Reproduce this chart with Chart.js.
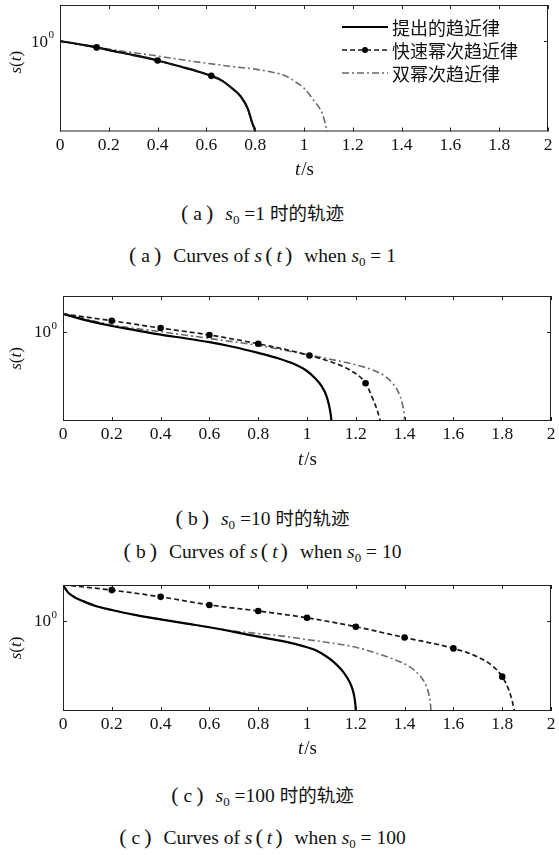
<!DOCTYPE html>
<html>
<head>
<meta charset="utf-8">
<script src="https://cdn.jsdelivr.net/npm/chart.js@4.4.0/dist/chart.umd.min.js"></script>
<style>
  body { margin:0; background:#fff; width:559px; height:855px; position:relative; overflow:hidden;
         font-family:'Liberation Serif','Noto Sans CJK SC',serif; color:#111; }
  .plot { position:absolute; left:0; }
  .cap { position:absolute; left:0; width:525px; height:26px; line-height:26px; text-align:center;
         font-size:19.5px; white-space:nowrap; }
  .cap sub { font-size:13px; vertical-align:-4px; }
  .pa, .pb, .qa, .qb { font-size:22px; }
  .pa { margin-right:5px; }
  .pb { margin-left:4px; margin-right:12px; }
  .qa { margin:0 4px 0 3px; }
  .qb { margin:0 12px 0 3px; }
  .zh { margin-left:5px; font-size:18.5px; }
</style>
</head>
<body>
<canvas class="plot" id="chartA" width="559" height="180" style="top:0"></canvas>
<div class="cap" style="top:200px"><span class="pa">(</span>a<span class="pb">)</span><i>s</i><sub>0</sub> =1<span class="zh">时的轨迹</span></div>
<div class="cap" style="top:242px"><span class="pa">(</span>a<span class="pb">)</span>Curves of <i>s</i><span class="qa">(</span><i>t</i><span class="qb">)</span>when <i>s</i><sub>0</sub> = 1</div>

<canvas class="plot" id="chartB" width="559" height="180" style="top:291px"></canvas>
<div class="cap" style="top:505px"><span class="pa">(</span>b<span class="pb">)</span><i>s</i><sub>0</sub> =10<span class="zh">时的轨迹</span></div>
<div class="cap" style="top:538px"><span class="pa">(</span>b<span class="pb">)</span>Curves of <i>s</i><span class="qa">(</span><i>t</i><span class="qb">)</span>when <i>s</i><sub>0</sub> = 10</div>

<canvas class="plot" id="chartC" width="559" height="180" style="top:580px"></canvas>
<div class="cap" style="top:782px"><span class="pa">(</span>c<span class="pb">)</span><i>s</i><sub>0</sub> =100<span class="zh">时的轨迹</span></div>
<div class="cap" style="top:824px"><span class="pa">(</span>c<span class="pb">)</span>Curves of <i>s</i><span class="qa">(</span><i>t</i><span class="qb">)</span>when <i>s</i><sub>0</sub> = 100</div>

<script>
// Подписи легенды
const seriesNames = ['提出的趋近律', '快速幂次趋近律', '双幂次趋近律'];

// Деления осей
const xTickVals = [0, 0.2, 0.4, 0.6, 0.8, 1, 1.2, 1.4, 1.6, 1.8, 2];
const yTickVals = [1];

// (a) s0 = 1
const tPropA = [0, 0.05, 0.1, 0.15, 0.2, 0.3, 0.4, 0.5, 0.56, 0.62, 0.66, 0.7, 0.74, 0.77, 0.787, 0.797, 0.8];
const sPropA = [1, 0.79, 0.6, 0.45, 0.32, 0.17, 0.085, 0.037, 0.022, 0.012, 7e-3, 2.8e-3, 8.9e-4, 1.8e-4, 3.2e-5, 1.4e-5, 1e-5];
const tFastA = [0, 0.05, 0.1, 0.15, 0.2, 0.3, 0.4, 0.5, 0.56, 0.62, 0.66, 0.7, 0.74, 0.77, 0.787, 0.797, 0.8];
const sFastA = [1, 0.79, 0.6, 0.45, 0.32, 0.17, 0.085, 0.037, 0.022, 0.012, 7e-3, 2.8e-3, 8.9e-4, 1.8e-4, 3.2e-5, 1.4e-5, 1e-5];
const markFastA = [0.15, 0.4, 0.62];
const tDblA = [0, 0.1, 0.2, 0.3, 0.4, 0.5, 0.6, 0.7, 0.8, 0.88, 0.93, 0.97, 1.0, 1.04, 1.075, 1.088, 1.095];
const sDblA = [1, 0.6, 0.36, 0.23, 0.15, 0.093, 0.06, 0.04, 0.028, 0.018, 0.011, 5e-3, 2.5e-3, 5.2e-4, 1e-4, 2.5e-5, 1e-5];

// (b) s0 = 10
const tPropB = [0, 0.1, 0.2, 0.3, 0.4, 0.5, 0.6, 0.7, 0.8, 0.88, 0.95, 1.0, 1.03, 1.06, 1.08, 1.09, 1.097, 1.1];
const sPropB = [10, 4.2, 2.1, 1.2, 0.68, 0.43, 0.26, 0.14, 0.065, 0.033, 0.015, 6.3e-3, 2.7e-3, 8.9e-4, 2.5e-4, 7.9e-5, 2.5e-5, 1e-5];
const tFastB = [0, 0.2, 0.4, 0.6, 0.8, 0.9, 1.01, 1.1, 1.17, 1.24, 1.27, 1.29, 1.3];
const sFastB = [10, 4.1, 1.6, 0.66, 0.21, 0.11, 0.047, 0.02, 7.9e-3, 1.3e-3, 1.7e-4, 3.2e-5, 1e-5];
const markFastB = [0.2, 0.4, 0.6, 0.8, 1.01, 1.24];
const tDblB = [0, 0.1, 0.2, 0.4, 0.6, 0.8, 1.0, 1.1, 1.2, 1.27, 1.32, 1.355, 1.375, 1.39, 1.397, 1.4];
const sDblB = [10, 4.8, 2.4, 1.0, 0.42, 0.17, 0.052, 0.028, 0.014, 7.1e-3, 3.2e-3, 1.1e-3, 4e-4, 1e-4, 3.2e-5, 1e-5];

// (c) s0 = 100
const tPropC = [0, 0.012, 0.024, 0.05, 0.078, 0.13, 0.2, 0.3, 0.4, 0.5, 0.6, 0.7, 0.8, 0.9, 0.95, 1.0, 1.04, 1.08, 1.11, 1.15, 1.175, 1.19, 1.198, 1.2];
const sPropC = [100, 56, 35, 20, 13.5, 7.1, 4.1, 2.1, 1.23, 0.74, 0.45, 0.25, 0.135, 0.076, 0.054, 0.035, 0.0224, 0.0107, 5.2e-3, 1.4e-3, 4e-4, 1.1e-4, 2.5e-5, 1e-5];
const tFastC = [0, 0.1, 0.2, 0.4, 0.6, 0.8, 1.0, 1.2, 1.4, 1.6, 1.7, 1.76, 1.8, 1.826, 1.842, 1.85];
const sFastC = [100, 74, 52, 22, 7.8, 3.6, 1.5, 0.48, 0.12, 0.03, 0.01, 3.2e-3, 8.1e-4, 1.6e-4, 3.2e-5, 1e-5];
const markFastC = [0.2, 0.4, 0.6, 0.8, 1.0, 1.2, 1.4, 1.6, 1.8];
const tDblC = [0, 0.012, 0.024, 0.05, 0.078, 0.13, 0.2, 0.3, 0.4, 0.5, 0.6, 0.7, 0.8, 0.9, 1.0, 1.1, 1.2, 1.285, 1.35, 1.42, 1.46, 1.485, 1.5, 1.506, 1.508];
const sDblC = [100, 56, 35, 20, 13.5, 7.1, 4.1, 2.1, 1.23, 0.74, 0.45, 0.28, 0.2, 0.145, 0.093, 0.06, 0.035, 0.016, 7.9e-3, 2.9e-3, 1e-3, 3.2e-4, 7.9e-5, 2.5e-5, 1e-5];

const serif = "'Liberation Serif', 'Times New Roman', serif";
const cjk = "'Noto Sans CJK SC', sans-serif";

function toPoints(t, s) {
  return t.map((x, i) => ({ x: x, y: s[i] }));
}

// Рамка, засечки внутрь, подписи осей, легенда
const framePlugin = {
  id: 'frame',
  afterDraw(chart, args, opts) {
    const ctx = chart.ctx;
    const a = chart.chartArea;
    const xs = chart.scales.x, ys = chart.scales.y;
    ctx.save();
    ctx.strokeStyle = '#222';
    ctx.lineWidth = 1;
    ctx.strokeRect(a.left + 0.5, a.top + 0.5, a.right - a.left - 1, a.bottom - a.top - 1);
    ctx.beginPath();
    xs.ticks.forEach(tk => {
      const px = Math.round(xs.getPixelForValue(tk.value)) + 0.5;
      ctx.moveTo(px, a.bottom); ctx.lineTo(px, a.bottom - 4);
      ctx.moveTo(px, a.top); ctx.lineTo(px, a.top + 4);
    });
    ys.ticks.forEach(tk => {
      const py = Math.round(ys.getPixelForValue(tk.value)) + 0.5;
      ctx.moveTo(a.left, py); ctx.lineTo(a.left + 4, py);
      ctx.moveTo(a.right, py); ctx.lineTo(a.right - 4, py);
    });
    ctx.stroke();

    // 10^0
    ctx.fillStyle = '#111';
    ys.ticks.forEach(tk => {
      const py = ys.getPixelForValue(tk.value);
      ctx.textBaseline = 'middle';
      ctx.textAlign = 'right';
      ctx.font = '11px ' + serif;
      ctx.fillText('0', a.left - 6, py - 6);
      ctx.font = '17px ' + serif;
      ctx.fillText('10', a.left - 12, py + 1);
    });

    // t/s
    const cx = (a.left + a.right) / 2;
    ctx.textBaseline = 'middle';
    ctx.textAlign = 'left';
    ctx.font = 'italic 19px ' + serif;
    const wT = ctx.measureText('t').width;
    ctx.font = '19px ' + serif;
    const wS = ctx.measureText('/s').width;
    const x0 = cx - (wT + wS) / 2;
    ctx.font = 'italic 19px ' + serif;
    ctx.fillText('t', x0, opts.titleY);
    ctx.font = '19px ' + serif;
    ctx.fillText('/s', x0 + wT + 1, opts.titleY);

    // s(t)
    ctx.save();
    ctx.translate(17, (a.top + a.bottom) / 2 + opts.yTitleShift);
    ctx.rotate(-Math.PI / 2);
    const parts = [['s', true], ['(', false], ['t', true], [')', false]];
    let total = 0;
    parts.forEach(p => { ctx.font = (p[1] ? 'italic ' : '') + '17px ' + serif; total += ctx.measureText(p[0]).width; });
    let px = -total / 2;
    parts.forEach(p => {
      ctx.font = (p[1] ? 'italic ' : '') + '17px ' + serif;
      ctx.fillText(p[0], px, 0);
      px += ctx.measureText(p[0]).width;
    });
    ctx.restore();

    // легенда
    if (opts.legend) {
      const styles = chart.data.datasets;
      opts.legend.rows.forEach((ry, i) => {
        const ds = styles[i];
        ctx.strokeStyle = ds.borderColor;
        ctx.lineWidth = ds.borderWidth;
        ctx.setLineDash(ds.borderDash || []);
        ctx.beginPath();
        ctx.moveTo(opts.legend.x0, ry); ctx.lineTo(opts.legend.x1, ry);
        ctx.stroke();
        ctx.setLineDash([]);
        if (i === 1) {
          ctx.fillStyle = '#000';
          ctx.beginPath();
          ctx.arc((opts.legend.x0 + opts.legend.x1) / 2, ry, 3, 0, Math.PI * 2);
          ctx.fill();
        }
        ctx.fillStyle = '#111';
        ctx.font = '18px ' + cjk;
        ctx.textAlign = 'left';
        ctx.textBaseline = 'middle';
        ctx.fillText(seriesNames[i], opts.legend.x1 + 4, ry + 1);
      });
    }
    ctx.restore();
  }
};

function makeChart(id, prop, fast, marks, dbl, L) {
  return new Chart(document.getElementById(id), {
    type: 'line',
    data: {
      datasets: [
        { label: seriesNames[0], data: prop, borderColor: '#000', borderWidth: 2.2, pointRadius: 0,
          cubicInterpolationMode: 'monotone', order: 1 },
        { label: seriesNames[1], data: fast, borderColor: '#1a1a1a', borderWidth: 1.7, borderDash: [5, 3],
          cubicInterpolationMode: 'monotone', order: 0,
          pointRadius: c => (c.raw && marks.includes(c.raw.x)) ? 3.3 : 0,
          pointBackgroundColor: '#000', pointBorderWidth: 0 },
        { label: seriesNames[2], data: dbl, borderColor: '#6a6a6a', borderWidth: 1.6, borderDash: [7, 3, 2, 3],
          pointRadius: 0, cubicInterpolationMode: 'monotone', order: 2 }
      ]
    },
    options: {
      responsive: false,
      animation: false,
      events: [],
      layout: { padding: { top: L.top, right: L.right, left: 0, bottom: 0 } },
      plugins: {
        legend: { display: false },
        tooltip: { enabled: false },
        frame: { titleY: L.titleY, yTitleShift: L.yTitleShift, legend: L.legend }
      },
      scales: {
        x: {
          type: 'linear', min: 0, max: 2,
          afterBuildTicks: s => { s.ticks = xTickVals.map(v => ({ value: v })); },
          afterFit: s => { s.height = L.xh; },
          grid: { display: false, drawTicks: false },
          border: { display: false },
          ticks: { font: { family: serif, size: 17.5 }, color: '#111', padding: 3, maxRotation: 0, autoSkip: false,
                   callback: v => String(+(+v).toFixed(1)) }
        },
        y: {
          type: 'logarithmic', min: 1e-5, max: 1e2,
          afterBuildTicks: s => { s.ticks = yTickVals.map(v => ({ value: v })); },
          afterFit: s => { s.width = L.left; },
          grid: { display: false, drawTicks: false },
          border: { display: false },
          ticks: { display: false }
        }
      }
    },
    plugins: [framePlugin]
  });
}

makeChart('chartA', toPoints(tPropA, sPropA), toPoints(tFastA, sFastA), markFastA, toPoints(tDblA, sDblA),
  { top: 5, right: 11, left: 60, xh: 48.5, titleY: 170, yTitleShift: -6,
    legend: { x0: 342, x1: 388, rows: [27, 50, 73] } });
makeChart('chartB', toPoints(tPropB, sPropB), toPoints(tFastB, sFastB), markFastB, toPoints(tDblB, sDblB),
  { top: 5, right: 8, left: 63, xh: 50, titleY: 169, yTitleShift: 0 });
makeChart('chartC', toPoints(tPropC, sPropC), toPoints(tFastC, sFastC), markFastC, toPoints(tDblC, sDblC),
  { top: 5, right: 8, left: 63, xh: 49, titleY: 169, yTitleShift: 0 });
</script>
</body>
</html>
